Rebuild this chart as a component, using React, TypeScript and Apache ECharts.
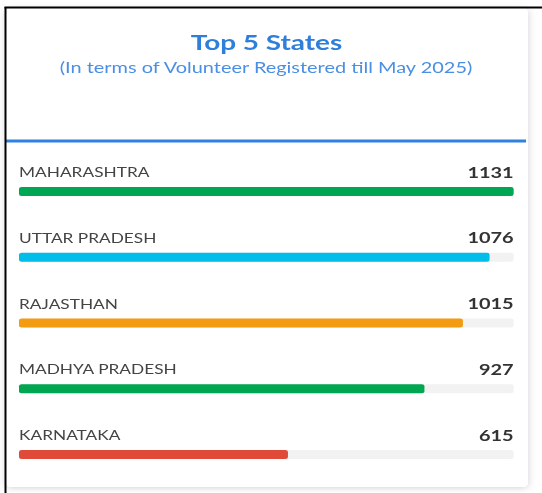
import React, { useEffect, useRef } from "react";
import * as echarts from "echarts";

const states = ["MAHARASHTRA", "UTTAR PRADESH", "RAJASTHAN", "MADHYA PRADESH", "KARNATAKA"];
const volunteers = [1131, 1076, 1015, 927, 615];
const barColors = ["#00a651", "#00bdea", "#f39c12", "#00a651", "#e04a38"];
const titleText = "Top 5 States";
const subtitleText = "(In terms of Volunteer Registered till May 2025)";

const W = 542;
const H = 493;
const SX = 1.33; // the reference is stretched horizontally
const IW = W / SX;
const ix = (x: number) => x / SX;

export default function App() {
  const ref = useRef<HTMLDivElement>(null);
  useEffect(() => {
    if (!ref.current) return;
    const chart = echarts.init(ref.current, undefined, { renderer: "svg" });
    const maxV = Math.max(...volunteers);
    chart.setOption({
      animation: false,
      backgroundColor: "#ffffff",
      grid: { left: ix(19), right: IW - ix(513), top: 158.6, height: 328.8, containLabel: false },
      xAxis: { type: "value", min: 0, max: maxV, show: false },
      yAxis: { type: "category", data: states, inverse: true, show: false },
      graphic: [
        {
          type: "rect",
          z: 0,
          shape: { x: ix(6), y: 8, width: ix(528) - ix(6), height: 479, r: 4 },
          style: { fill: "#ffffff", shadowBlur: 6, shadowColor: "rgba(0,0,0,0.18)", shadowOffsetY: 1 },
        },
        {
          type: "line",
          z: 1,
          shape: { x1: ix(6), y1: 141, x2: ix(526), y2: 141 },
          style: { stroke: "#2f80e0", lineWidth: 3 },
        },
        {
          type: "line",
          z: 5,
          shape: { x1: ix(4.5), y1: 7.5, x2: IW, y2: 7.5 },
          style: { stroke: "#000000", lineWidth: 2 },
        },
        {
          type: "line",
          z: 5,
          shape: { x1: ix(5.5), y1: 7, x2: ix(5.5), y2: H },
          style: { stroke: "#000000", lineWidth: 1.5 },
        },
        {
          type: "text",
          z: 5,
          x: ix(266.5),
          y: 42,
          style: {
            text: titleText,
            fill: "#2e7fdb",
            font: "bold 21px Lato",
            align: "center",
            verticalAlign: "middle",
          },
        },
        {
          type: "text",
          z: 5,
          x: ix(266),
          y: 67,
          style: {
            text: subtitleText,
            fill: "#4a8fe3",
            font: "15px Lato",
            align: "center",
            verticalAlign: "middle",
          },
        },
      ],
      series: [
        {
          type: "bar",
          z: 3,
          barWidth: 9,
          data: volunteers.map((v, i) => ({ value: v, itemStyle: { color: barColors[i] } })),
          showBackground: true,
          backgroundStyle: { color: "#f2f2f2", borderRadius: 2 },
          itemStyle: { borderRadius: 2 },
          label: {
            show: true,
            position: [0, -15],
            align: "left",
            verticalAlign: "middle",
            formatter: "{b}",
            fontFamily: "Lato",
            fontSize: 13,
            color: "#444444",
          },
        },
        {
          type: "bar",
          z: 4,
          barWidth: 9,
          barGap: "-100%",
          silent: true,
          data: volunteers.map(() => maxV),
          itemStyle: { color: "rgba(0,0,0,0)" },
          label: {
            show: true,
            position: ["100%", -15],
            align: "right",
            verticalAlign: "middle",
            formatter: (p: any) => String(volunteers[p.dataIndex]),
            fontFamily: "Lato",
            fontWeight: "bold",
            fontSize: 15,
            color: "#333333",
          },
        },
      ],
    });
    return () => chart.dispose();
  }, []);

  return (
    <div style={{ position: "absolute", left: 0, top: 0, width: W, height: H, overflow: "hidden", background: "#fff" }}>
      <div
        ref={ref}
        style={{
          width: IW,
          height: H,
          transform: `scaleX(${SX})`,
          transformOrigin: "0 0",
        }}
      />
    </div>
  );
}
